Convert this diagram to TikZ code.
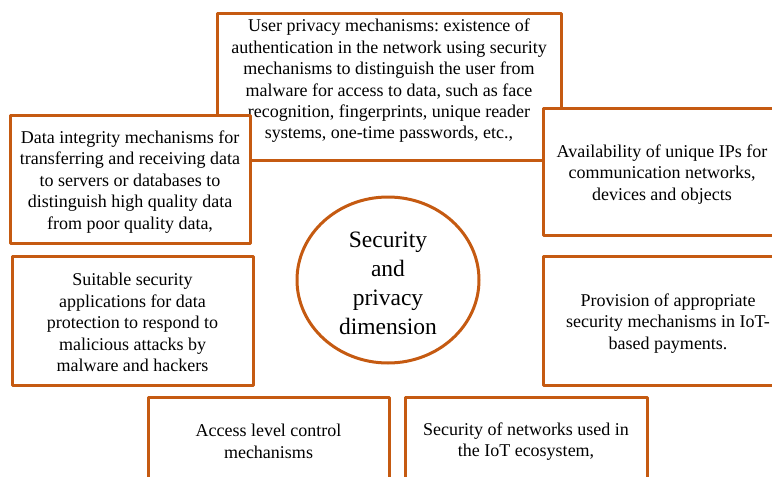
\documentclass[tikz,border=0pt]{standalone}
\usepackage{fontspec}
\setmainfont{Liberation Serif}
\newfontfamily\tnr{Liberation Serif}
\usetikzlibrary{shapes.geometric}
\definecolor{brd}{HTML}{C55A11}
\frenchspacing
\begin{document}
\begin{tikzpicture}[x=1pt,y=-1pt,
  box/.style={draw=brd, line width=3pt, fill=white, rectangle, inner sep=0pt,
    line join=round},
  hub/.style={draw=brd, line width=3pt, fill=white, ellipse, inner sep=0pt},
  txt/.style={align=center, inner sep=0pt, font=\tnr\fontsize{18}{21.4}\selectfont},
  hubtxt/.style={align=center, inner sep=0pt, font=\tnr\fontsize{23.5}{29}\selectfont}
]
\useasboundingbox (0,0) rectangle (772,477);
\clip (0,0) rectangle (772,477);

\node[box, minimum width=344pt, minimum height=147pt] (user) at (389,86.5) {};
\node[txt, anchor=north, yshift=-7.5pt] (userT) at (user.north)
  {User privacy mechanisms: existence of\\
   authentication in the network using security\\
   mechanisms to distinguish the user from\\
   malware for access to data, such as face\\
   recognition, fingerprints, unique reader\\
   systems, one-time passwords, etc.,};

\node[box, minimum width=240pt, minimum height=128pt] (integ) at (130,179) {};
\node[txt, yshift=-3pt] (integT) at (integ.center)
  {Data integrity mechanisms for\\
   transferring and receiving data\\
   to servers or databases to\\
   distinguish high quality data\\
   from poor quality data,};

\node[box, minimum width=238pt, minimum height=127pt] (ips) at (662,171.5) {};
\node[txt, yshift=-3pt] (ipsT) at (ips.center)
  {Availability of unique IPs for\\
   communication networks,\\
   devices and objects};

\node[box, minimum width=241pt, minimum height=129pt] (apps) at (132.5,320.5) {};
\node[txt, yshift=-2pt] (appsT) at (apps.center)
  {Suitable security\\
   applications for data\\
   protection to respond to\\
   malicious attacks by\\
   malware and hackers};

\node[box, minimum width=250pt, minimum height=129pt] (pay) at (668,320.5) {};
\node[txt, yshift=-3pt] (payT) at (pay.center)
  {Provision of appropriate\\
   security mechanisms in IoT-\\
   based payments.};

\node[box, minimum width=241pt, minimum height=85pt] (access) at (268.5,439.5) {};
\node[txt, yshift=-2pt] (accessT) at (access.center)
  {Access level control\\
   mechanisms};

\node[box, minimum width=242pt, minimum height=85pt] (nets) at (526,439.5) {};
\node[txt, yshift=-2pt] (netsT) at (nets.center)
  {Security of networks used in\\
   the IoT ecosystem,};

\node[hub, minimum width=182pt, minimum height=166pt] (dim) at (388,280) {};
\node[hubtxt, yshift=-3pt] (dimT) at (dim.center)
  {Security\\and\\privacy\\dimension};
\end{tikzpicture}
\end{document}
